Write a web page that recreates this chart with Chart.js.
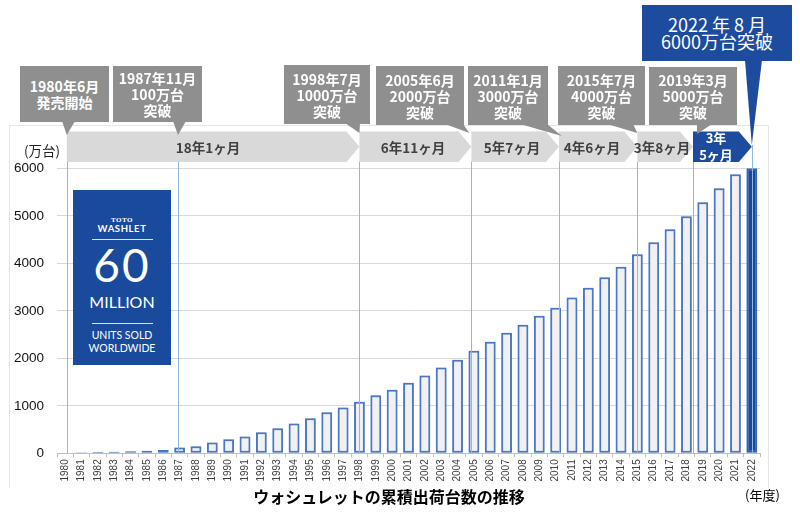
<!DOCTYPE html>
<html><head><meta charset="utf-8">
<script src="https://cdn.jsdelivr.net/npm/chart.js@4"></script>
<style>
body{margin:0;background:#fff;}
#wrap{position:relative;width:800px;height:513px;overflow:hidden;font-family:"Noto Sans CJK JP","Noto Sans",sans-serif;}
#c{position:absolute;left:0;top:0;}
.box{position:absolute;background:#8f8f8f;color:#fff;font-weight:bold;font-size:14px;line-height:16px;text-align:center;display:flex;align-items:center;justify-content:center;white-space:nowrap;}
.box.dark{background:#1d4c9e;font-weight:normal;font-size:18px;line-height:17px;}
.seg{position:absolute;transform:translate(-50%,-50%);font-weight:bold;font-size:13.5px;color:#404040;white-space:nowrap;line-height:17px;text-align:center;}
.seg.w{color:#fff;font-size:13px;}
.lbl{position:absolute;font-size:13.5px;color:#222;white-space:nowrap;}
#title{position:absolute;left:389px;top:496px;transform:translate(-50%,-50%);font-weight:bold;font-size:16px;color:#000;white-space:nowrap;}
#logo{position:absolute;left:73px;top:190px;width:98px;height:175px;background:#1a4a9c;color:#fff;font-family:Lato,"Open Sans",sans-serif;}
#logo div{position:absolute;left:0;width:98px;text-align:center;white-space:nowrap;}
#logo .rule{left:19px;width:61px;height:0;border-top:1px solid rgba(255,255,255,0.85);}
</style></head>
<body>
<div id="wrap">
<canvas id="c" width="800" height="513"></canvas>

<div class="box" style="left:20px;top:66px;width:89px;height:56px;">1980年6月<br>発売開始</div>
<div class="box" style="left:113px;top:66px;width:89px;height:56px;">1987年11月<br>100万台<br>突破</div>
<div class="box" style="left:284px;top:65px;width:86px;height:59px;">1998年7月<br>1000万台<br>突破</div>
<div class="box" style="left:376px;top:66px;width:88px;height:59px;">2005年6月<br>2000万台<br>突破</div>
<div class="box" style="left:468px;top:66px;width:80px;height:59px;">2011年1月<br>3000万台<br>突破</div>
<div class="box" style="left:558px;top:66px;width:87px;height:59px;">2015年7月<br>4000万台<br>突破</div>
<div class="box" style="left:649px;top:67px;width:88px;height:58px;">2019年3月<br>5000万台<br>突破</div>
<div class="box dark" style="left:642px;top:5px;width:150px;height:56px;">2022 年 8 月<br>6000万台突破</div>

<div class="seg" style="left:208px;top:147px;">18年1ヶ月</div>
<div class="seg" style="left:413px;top:147px;">6年11ヶ月</div>
<div class="seg" style="left:512px;top:147px;">5年7ヶ月</div>
<div class="seg" style="left:592px;top:147px;">4年6ヶ月</div>
<div class="seg" style="left:662px;top:147px;">3年8ヶ月</div>
<div class="seg w" style="left:716px;top:146px;">3年<br>5ヶ月</div>

<div class="lbl" style="left:24px;top:140px;">(万台)</div>
<div class="lbl" style="left:745px;top:485px;font-size:13px;color:#000;">(年度)</div>
<div id="title">ウォシュレットの累積出荷台数の推移</div>

<div id="logo">
  <div style="top:26px;font-family:'Liberation Serif',serif;font-weight:bold;font-size:7px;letter-spacing:0.5px;">TOTO</div>
  <div style="top:33px;font-weight:bold;font-size:9.5px;letter-spacing:0.6px;">WASHLET</div>
  <div class="rule" style="top:49px;"></div>
  <div style="top:49px;font-size:46px;font-weight:normal;line-height:52px;letter-spacing:2px;">60</div>
  <div style="top:103px;font-size:16px;line-height:18px;">MILLION</div>
  <div class="rule" style="top:133px;"></div>
  <div style="top:139px;font-size:10.5px;line-height:13px;">UNITS SOLD<br>WORLDWIDE</div>
</div>
</div>

<script>
// ---- data ----
const years = ['1980','1981','1982','1983','1984','1985','1986','1987','1988','1989',
  '1990','1991','1992','1993','1994','1995','1996','1997','1998','1999',
  '2000','2001','2002','2003','2004','2005','2006','2007','2008','2009',
  '2010','2011','2012','2013','2014','2015','2016','2017','2018','2019',
  '2020','2021','2022'];
const shipments = [12,20,26,32,44,54,72,122,147,228,
  295,355,442,526,628,737,863,965,1087,1221,
  1340,1487,1638,1806,1968,2160,2350,2540,2708,2898,
  3066,3280,3487,3705,3929,4189,4442,4716,4989,5284,
  5579,5874,6000];
const yTicks = [0,1000,2000,3000,4000,5000,6000];
const milestoneYears = [1980.1, 1986.9, 1998.0, 2004.85, 2010.2, 2015.0, 2018.4, 2022.0];
const highlightYear = '2022';

function msX(chart, yr){
  const x = chart.scales.x;
  const i = yr - Number(years[0]);
  const i0 = Math.floor(i + 1e-9);
  const step = x.getPixelForValue(1) - x.getPixelForValue(0);
  return x.getPixelForValue(i0) + (i - i0) * step;
}

const annot = {
  id: 'annot',
  beforeDraw(chart){
    const ctx = chart.ctx;
    ctx.save();
    ctx.strokeStyle = '#e6e6e6';
    ctx.lineWidth = 1;
    ctx.beginPath();
    ctx.moveTo(9.5, 488); ctx.lineTo(9.5, 125.5); ctx.lineTo(768.5, 125.5); ctx.lineTo(768.5, 488);
    ctx.stroke();
    const ms = milestoneYears.map(y => msX(chart, y));
    const spans = [[0,2],[2,3],[3,4],[4,5],[5,6],[6,7]];
    const top = 131.5, bot = 162, mid = (top + bot) / 2, tip = 13;
    spans.forEach((s, k) => {
      const x0 = ms[s[0]], x1 = ms[s[1]];
      ctx.fillStyle = (k === spans.length - 1) ? '#1d4c9e' : '#d9d9d9';
      ctx.beginPath();
      ctx.moveTo(x0, top); ctx.lineTo(x1 - tip, top); ctx.lineTo(x1, mid);
      ctx.lineTo(x1 - tip, bot); ctx.lineTo(x0, bot); ctx.closePath();
      ctx.fill();
    });
    const ptrs = [
      {m:0, a:62, b:75, by:121, ty:135, dx:0, c:'#8f8f8f'},
      {m:1, a:173, b:186, by:121, ty:135, dx:0, c:'#8f8f8f'},
      {m:2, a:345, b:360, by:123, ty:133, dx:0, c:'#8f8f8f'},
      {m:3, a:445, b:463, by:124, ty:133, dx:-2, c:'#8f8f8f'},
      {m:4, a:520, b:547, by:124, ty:136, dx:3, c:'#8f8f8f'},
      {m:5, a:607, b:633, by:124, ty:133, dx:0, c:'#8f8f8f'},
      {m:6, a:697, b:712, by:124, ty:134, dx:4, c:'#8f8f8f'},
      {m:7, a:745, b:762, by:60, ty:145, dx:0, c:'#1d4c9e'}
    ];
    ptrs.forEach(p => {
      ctx.fillStyle = p.c;
      ctx.beginPath();
      ctx.moveTo(p.a, p.by); ctx.lineTo(p.b, p.by); ctx.lineTo(ms[p.m] + p.dx, p.ty);
      ctx.closePath(); ctx.fill();
    });
    ctx.restore();
  },
  beforeDatasetDraw(chart){
    const ctx = chart.ctx;
    ctx.save();
    ctx.shadowColor = 'rgba(91,140,215,0.55)';
    ctx.shadowBlur = 4;
  },
  afterDatasetDraw(chart){
    chart.ctx.restore();
  },
  afterDatasetsDraw(chart){
    const ctx = chart.ctx;
    const ms = milestoneYears.map(y => msX(chart, y));
    const bottom = chart.scales.y.getPixelForValue(0);
    ctx.save();
    ctx.strokeStyle = '#8fb8e3';
    ctx.lineWidth = 1;
    ms.forEach((x, k) => {
      const xx = Math.round(x) + 0.5;
      ctx.beginPath();
      ctx.moveTo(xx, k === ms.length - 1 ? 145 : 162);
      ctx.lineTo(xx, bottom);
      ctx.stroke();
    });
    ctx.restore();
  }
};

new Chart(document.getElementById('c'), {
  type: 'bar',
  data: {
    labels: years,
    datasets: [{
      data: shipments,
      backgroundColor: years.map(y => y === highlightYear ? '#1a479a' : '#f1f1f1'),
      borderColor: years.map(y => y === highlightYear ? '#2a5cb3' : '#4a74c4'),
      borderWidth: 2,
      borderSkipped: false,
      barPercentage: 0.66,
      categoryPercentage: 1.0
    }]
  },
  options: {
    responsive: false,
    animation: false,
    devicePixelRatio: 1,
    layout: { padding: { top: 168.3, right: 40, left: 0, bottom: 0 } },
    plugins: { legend: { display: false }, tooltip: { enabled: false } },
    scales: {
      x: {
        afterFit(s){ s.height = 59.7; },
        grid: { display: true, drawOnChartArea: false, drawTicks: true, tickLength: 4, color: '#bfbfbf', offset: true },
        border: { display: true, color: '#bfbfbf' },
        ticks: {
          autoSkip: false, minRotation: 90, maxRotation: 90, padding: 2,
          color: '#404040', font: { family: 'Liberation Sans', size: 10 }
        }
      },
      y: {
        min: 0, max: 6000,
        afterFit(s){ s.width = 57; },
        afterBuildTicks(s){ s.ticks = yTicks.map(v => ({ value: v })); },
        grid: { color: '#d9d9d9', drawTicks: false },
        border: { display: false },
        ticks: {
          padding: 13, color: '#111', font: { family: 'Liberation Sans', size: 13.5 },
          callback: (v) => String(v)
        }
      }
    }
  },
  plugins: [annot]
});
</script>
</body></html>
